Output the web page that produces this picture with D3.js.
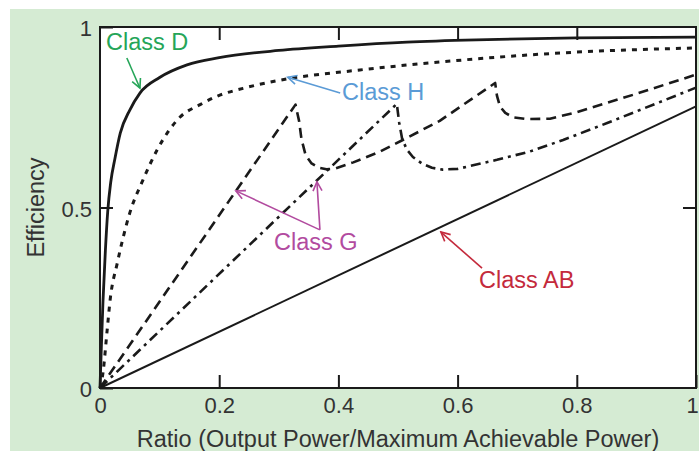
<!DOCTYPE html>
<html>
<head>
<meta charset="utf-8">
<script src="https://cdn.jsdelivr.net/npm/d3@7"></script>
<style>
  html, body { margin: 0; padding: 0; background: #ffffff; }
  svg { display: block; font-family: "Liberation Sans", Arial, Helvetica, sans-serif; }
</style>
</head>
<body>
<svg id="chart" width="699" height="451"></svg>
<script>
// Efficiency vs. output power ratio for several amplifier classes.
const classDRatio = [0, 0.002, 0.005, 0.009, 0.013, 0.018, 0.025, 0.034, 0.05, 0.067, 0.1, 0.146, 0.2, 0.3, 0.4, 0.515, 0.65, 0.8, 1.0];
const classDEff   = [0, 0.10, 0.24, 0.38, 0.49, 0.57, 0.635, 0.706, 0.77, 0.817, 0.86, 0.895, 0.915, 0.935, 0.947, 0.958, 0.965, 0.97, 0.972];

const classHRatio = [0, 0.005, 0.012, 0.017, 0.029, 0.039, 0.05, 0.072, 0.096, 0.134, 0.168, 0.196, 0.24, 0.3, 0.436, 0.57, 0.772, 1.0];
const classHEff   = [0, 0.042, 0.16, 0.244, 0.346, 0.418, 0.485, 0.576, 0.66, 0.75, 0.785, 0.808, 0.83, 0.852, 0.881, 0.903, 0.928, 0.942];

// Class G, three supply rails (dashed)
const classG3Ratio = [0, 0.328, 0.334, 0.338, 0.345, 0.355, 0.367, 0.38, 0.395, 0.425, 0.47, 0.508, 0.57, 0.663, 0.666, 0.671, 0.68, 0.693, 0.716, 0.755, 0.8, 0.9, 1.0];
const classG3Eff   = [0, 0.785, 0.74, 0.69, 0.645, 0.622, 0.61, 0.606, 0.608, 0.625, 0.655, 0.687, 0.74, 0.845, 0.81, 0.78, 0.762, 0.75, 0.745, 0.746, 0.764, 0.815, 0.868];

// Class G, two supply rails (dash-dot)
const classG2Ratio = [0, 0.498, 0.502, 0.507, 0.515, 0.525, 0.54, 0.557, 0.575, 0.6, 0.666, 0.721, 0.777, 0.851, 1.0];
const classG2Eff   = [0, 0.787, 0.735, 0.69, 0.66, 0.64, 0.622, 0.61, 0.605, 0.607, 0.632, 0.655, 0.687, 0.734, 0.832];

const classABRatio = [0, 1];
const classABEff   = [0, 0.78];

const xTicks = [0, 0.2, 0.4, 0.6, 0.8, 1];
const xTickLabels = ["0", "0.2", "0.4", "0.6", "0.8", "1"];
const yTicks = [0, 0.5, 1];
const yTickLabels = ["0", "0.5", "1"];

const svg = d3.select("#chart");
const W = 699, H = 451;
const margin = { left: 100, right: 3, top: 27, bottom: 63 };
const plotW = W - margin.left - margin.right;
const plotH = H - margin.top - margin.bottom;

const x = d3.scaleLinear().domain([0, 1]).range([margin.left, margin.left + plotW]);
const y = d3.scaleLinear().domain([0, 1]).range([margin.top + plotH, margin.top]);

// Page background panel
svg.append("rect").attr("x", 0).attr("y", 0).attr("width", W).attr("height", H).attr("fill", "#ffffff");
svg.append("rect").attr("x", 10).attr("y", 9).attr("width", W - 10).attr("height", H - 9).attr("fill", "#d5ebd3");

// Plot area
svg.append("rect")
  .attr("x", x(0)).attr("y", y(1))
  .attr("width", x(1) - x(0)).attr("height", y(0) - y(1))
  .attr("fill", "#ffffff");

const tickFont = 22;
const titleFont = 23.5;
const ink = "#1a1a1a";

function styleAxis(g) {
  g.select(".domain").remove();
  g.selectAll(".tick line").attr("stroke", ink).attr("stroke-width", 2);
  g.selectAll(".tick text").attr("fill", "#333").style("font-size", tickFont + "px");
}

svg.append("g")
  .attr("transform", `translate(0,${y(0)})`)
  .call(d3.axisBottom(x).tickValues(xTicks).tickFormat((d, i) => xTickLabels[i]).tickSize(-13).tickPadding(9))
  .call(styleAxis)
  .call(g => g.selectAll(".tick text").filter(d => d === 1).attr("dx", -4));

svg.append("g")
  .attr("transform", `translate(0,${y(1)})`)
  .call(d3.axisTop(x).tickValues(xTicks.slice(1, -1)).tickFormat("").tickSize(-13))
  .call(styleAxis);

svg.append("g")
  .attr("transform", `translate(${x(0)},0)`)
  .call(d3.axisLeft(y).tickValues(yTicks).tickFormat((d, i) => yTickLabels[i]).tickSize(-13).tickPadding(8))
  .call(styleAxis)
  .call(g => g.selectAll(".tick text").attr("dy", "0.4em"));

svg.append("g")
  .attr("transform", `translate(${x(1)},0)`)
  .call(d3.axisRight(y).tickValues([0.5]).tickFormat("").tickSize(-13))
  .call(styleAxis);

// Axis titles
svg.append("text")
  .attr("x", 398).attr("y", 447)
  .attr("text-anchor", "middle")
  .attr("fill", "#333")
  .style("font-size", titleFont + "px")
  .text("Ratio (Output Power/Maximum Achievable Power)");

svg.append("text")
  .attr("transform", `translate(44,${y(0.5)}) rotate(-90)`)
  .attr("text-anchor", "middle")
  .attr("fill", "#333")
  .style("font-size", titleFont + "px")
  .text("Efficiency");

// Curves
const line = (curve) => d3.line().x(d => x(d[0])).y(d => y(d[1])).curve(curve);
const zip = (a, b) => a.map((v, i) => [v, b[i]]);

const series = [
  { pts: zip(classABRatio, classABEff), width: 2, dash: null, curve: d3.curveLinear },
  { pts: zip(classG2Ratio, classG2Eff), width: 2.6, dash: "10,5,3,5", curve: d3.curveLinear },
  { pts: zip(classG3Ratio, classG3Eff), width: 2.6, dash: "10,6", curve: d3.curveLinear },
  { pts: zip(classHRatio, classHEff), width: 3, dash: "5,6", curve: d3.curveMonotoneX },
  { pts: zip(classDRatio, classDEff), width: 2.8, dash: null, curve: d3.curveMonotoneX }
];

svg.append("g").selectAll("path")
  .data(series)
  .join("path")
  .attr("d", s => line(s.curve)(s.pts))
  .attr("fill", "none")
  .attr("stroke", ink)
  .attr("stroke-width", s => s.width)
  .attr("stroke-dasharray", s => s.dash)
  .attr("stroke-linejoin", "round");

// Frame
svg.append("rect")
  .attr("x", x(0)).attr("y", y(1))
  .attr("width", x(1) - x(0)).attr("height", y(0) - y(1))
  .attr("fill", "none").attr("stroke", ink).attr("stroke-width", 2);

// Annotations: label text and arrows pointing at each curve
const annColors = { D: "#25a558", H: "#5b9bd6", G: "#b24b9f", AB: "#c42a3c" };
const defs = svg.append("defs");
Object.entries(annColors).forEach(([k, c]) => {
  defs.append("marker")
    .attr("id", "arrow-" + k)
    .attr("viewBox", "-11 -6 13 12")
    .attr("refX", 0).attr("refY", 0)
    .attr("markerWidth", 13).attr("markerHeight", 12)
    .attr("markerUnits", "userSpaceOnUse")
    .attr("orient", "auto")
    .append("path")
    .attr("d", "M-9,-4.5 L0,0 L-9,4.5")
    .attr("fill", "none").attr("stroke", c).attr("stroke-width", 1.6)
    .attr("stroke-linejoin", "miter");
});

const labels = [
  { key: "D", text: "Class D", at: [0.010, 0.936] },
  { key: "H", text: "Class H", at: [0.406, 0.798] },
  { key: "G", text: "Class G", at: [0.292, 0.382] },
  { key: "AB", text: "Class AB", at: [0.636, 0.277] }
];
const arrows = [
  { key: "D", from: [0.045, 0.914], to: [0.067, 0.831] },
  { key: "H", from: [0.403, 0.817], to: [0.315, 0.861] },
  { key: "G", from: [0.369, 0.438], to: [0.228, 0.546] },
  { key: "G", from: [0.369, 0.438], to: [0.364, 0.571] },
  { key: "AB", from: [0.641, 0.332], to: [0.572, 0.432] }
];

svg.append("g").selectAll("line")
  .data(arrows)
  .join("line")
  .attr("x1", d => x(d.from[0])).attr("y1", d => y(d.from[1]))
  .attr("x2", d => x(d.to[0])).attr("y2", d => y(d.to[1]))
  .attr("stroke", d => annColors[d.key])
  .attr("stroke-width", 1.6)
  .attr("marker-end", d => `url(#arrow-${d.key})`);

svg.append("g").selectAll("text")
  .data(labels)
  .join("text")
  .attr("x", d => x(d.at[0])).attr("y", d => y(d.at[1]))
  .attr("fill", d => annColors[d.key])
  .style("font-size", titleFont + "px")
  .text(d => d.text);
</script>
</body>
</html>
